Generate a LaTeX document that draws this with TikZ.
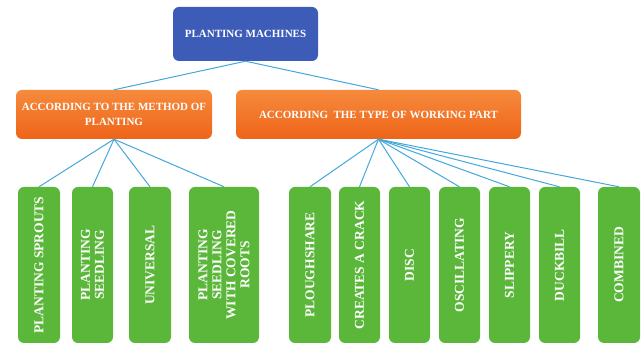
\documentclass[tikz,border=0pt]{standalone}
\usepackage{fontspec}
\setmainfont{Liberation Serif}
\definecolor{rootblue}{HTML}{3C5CB8}
\definecolor{branchorange}{HTML}{EE6419}
\definecolor{branchorangelt}{HTML}{F68A3C}
\definecolor{leafgreen}{HTML}{5BB73A}
\definecolor{linkblue}{HTML}{43A7DE}
\begin{document}
\begin{tikzpicture}[x=1pt,y=-1pt]
        \tikzstyle{every node}=[rounded corners=6pt, inner sep=0pt, text=white]
        \tikzstyle{rootbox}=[fill=rootblue, minimum width=145pt, minimum height=54pt, font=\bfseries\fontsize{11}{13}\selectfont]
        \tikzstyle{branchbox}=[top color=branchorangelt, bottom color=branchorange, minimum height=49pt, align=center, font=\bfseries\fontsize{11}{15}\selectfont]
        \tikzstyle{leafbox}=[fill=leafgreen, rotate=90, minimum width=156pt, align=center, font=\bfseries\fontsize{13.5}{14}\selectfont]
        \tikzstyle{link}=[draw=linkblue, line width=1pt]
        \useasboundingbox (0,0) rectangle (641,344);
        \node[rootbox] (machines) at (245.5,34) {PLANTING MACHINES};
        \node[branchbox, minimum width=196pt] (method) at (114,114.5) {ACCORDING TO THE METHOD OF\\PLANTING};
        \node[branchbox, minimum width=285pt] (worktype) at (378.5,114.5) {ACCORDING\ \ THE TYPE OF WORKING PART};
        \node[leafbox, minimum height=42pt] (sprouts) at (39,265) {PLANTING SPROUTS};
        \node[leafbox, minimum height=41pt] (seedling) at (92.5,265) {PLANTING\\SEEDLING};
        \node[leafbox, minimum height=42pt] (universal) at (150,265) {UNIVERSAL};
        \node[leafbox, minimum height=70pt] (covered) at (224,265) {PLANTING\\SEEDLING\\WITH COVERED\\ROOTS};
        \node[leafbox, minimum height=42pt] (ploughshare) at (310,265) {PLOUGHSHARE};
        \node[leafbox, minimum height=41pt] (crack) at (359.5,265) {CREATES A CRACK};
        \node[leafbox, minimum height=41pt] (disc) at (409.5,265) {DISC};
        \node[leafbox, minimum height=41pt] (oscillating) at (459.5,265) {OSCILLATING};
        \node[leafbox, minimum height=41pt] (slippery) at (509.5,265) {SLIPPERY};
        \node[leafbox, minimum height=41pt] (duckbill) at (559.5,265) {DUCKBILL};
        \node[leafbox, minimum height=42pt] (combined) at (619,265) {COMBINED};
        \draw[link] (machines.south) -- (method.north);
        \draw[link] (machines.south) -- (worktype.north);
        \foreach \leaf in {sprouts,seedling,universal,covered}
                \draw[link] (method.south) -- (\leaf.east);
        \foreach \leaf in {ploughshare,crack,disc,oscillating,slippery,duckbill,combined}
                \draw[link] (worktype.south) -- (\leaf.east);
\end{tikzpicture}
\end{document}
